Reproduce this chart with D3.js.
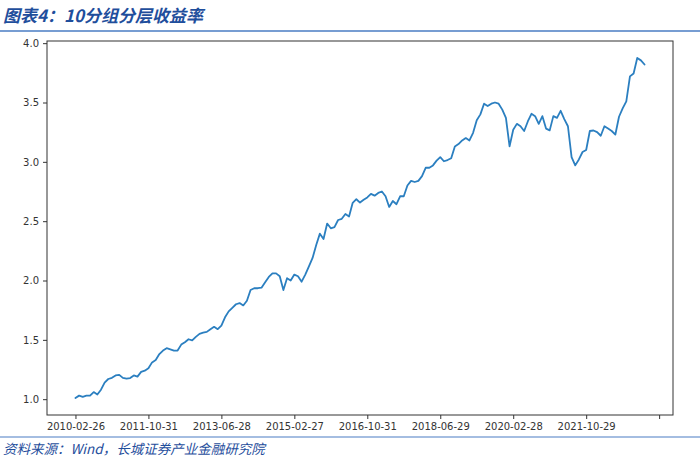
<!DOCTYPE html>
<html><head><meta charset="utf-8">
<script src="https://cdn.jsdelivr.net/npm/d3@7"></script>
<style>
body{margin:0;background:#fff;}
svg{display:block;}
</style></head>
<body>
<svg id="chart" width="700" height="459"></svg>
<script>
const titleText = "图表4：10分组分层收益率";
const sourceText = "资料来源：Wind，长城证券产业金融研究院";
const tickIndices = [0, 20, 40, 60, 80, 100, 120, 140, 160];
const tickLabels = ["2010-02-26","2011-10-31","2013-06-28","2015-02-27","2016-10-31","2018-06-29","2020-02-28","2021-10-29",""];
const yTicks = [1.0, 1.5, 2.0, 2.5, 3.0, 3.5, 4.0];
const values = [
1.01,1.03,1.02,1.03,1.03,1.06,1.04,1.08,1.14,1.17,
1.18,1.20,1.205,1.18,1.174,1.178,1.20,1.19,1.23,1.24,
1.26,1.31,1.33,1.38,1.41,1.43,1.42,1.41,1.41,1.46,
1.48,1.505,1.495,1.525,1.55,1.56,1.567,1.59,1.61,1.59,
1.62,1.69,1.74,1.77,1.80,1.81,1.79,1.83,1.92,1.935,
1.935,1.94,1.985,2.03,2.06,2.06,2.036,1.92,2.02,2.0,
2.05,2.036,1.99,2.05,2.12,2.19,2.30,2.395,2.35,2.48,
2.44,2.45,2.51,2.52,2.56,2.54,2.655,2.685,2.657,2.68,
2.70,2.73,2.715,2.738,2.75,2.71,2.62,2.67,2.643,2.71,
2.71,2.80,2.84,2.83,2.84,2.88,2.95,2.95,2.97,3.01,
3.04,3.005,3.015,3.03,3.13,3.15,3.18,3.20,3.18,3.245,
3.35,3.40,3.49,3.47,3.49,3.50,3.49,3.44,3.37,3.13,
3.27,3.32,3.30,3.26,3.34,3.405,3.385,3.32,3.385,3.28,
3.265,3.385,3.37,3.43,3.36,3.30,3.04,2.97,3.02,3.083,
3.10,3.26,3.264,3.25,3.22,3.30,3.28,3.26,3.23,3.38,
3.45,3.51,3.72,3.745,3.875,3.855,3.82
];

const svg = d3.select("#chart");
const W = 700, H = 459;
const frame = {left: 47, right: 673, top: 41, bottom: 415};

// Title
svg.append("text").attr("x", 3).attr("y", 22)
  .attr("font-family", "'Noto Sans CJK SC', sans-serif")
  .attr("font-size", 17).attr("font-weight", "bold").attr("font-style", "italic")
  .attr("fill", "#1f4e9c").text(titleText);
svg.append("line").attr("x1", 0).attr("x2", W).attr("y1", 31).attr("y2", 31)
  .attr("stroke", "#4a7cc3").attr("stroke-width", 1.5);

// Footer
svg.append("line").attr("x1", 0).attr("x2", W).attr("y1", 437).attr("y2", 437)
  .attr("stroke", "#4a7cc3").attr("stroke-width", 1.2);
svg.append("text").attr("x", 3).attr("y", 454)
  .attr("font-family", "'Noto Sans CJK SC', sans-serif")
  .attr("font-size", 13.5).attr("font-style", "italic")
  .attr("fill", "#1f4e9c").text(sourceText);

// Scales (matplotlib-like 5% margins)
const n = values.length;
const xPad = (n - 1) * 0.05;
const x = d3.scaleLinear().domain([-xPad, n - 1 + xPad]).range([frame.left, frame.right]);
const [ymin, ymax] = d3.extent(values);
const yPad = (ymax - ymin) * 0.05;
const y = d3.scaleLinear().domain([ymin - yPad, ymax + yPad]).range([frame.bottom, frame.top]);

// Frame
svg.append("rect").attr("x", frame.left).attr("y", frame.top)
  .attr("width", frame.right - frame.left).attr("height", frame.bottom - frame.top)
  .attr("fill", "none").attr("stroke", "#333").attr("stroke-width", 1);

// Axes
const xAxis = d3.axisBottom(x).tickValues(tickIndices)
  .tickFormat((d, i) => tickLabels[i]).tickSize(4).tickPadding(4);
const gx = svg.append("g").attr("transform", `translate(0,${frame.bottom})`).call(xAxis);
const yAxis = d3.axisLeft(y).tickValues(yTicks).tickFormat(d3.format(".1f")).tickSize(4).tickPadding(4);
const gy = svg.append("g").attr("transform", `translate(${frame.left},0)`).call(yAxis);
[gx, gy].forEach(g => {
  g.select(".domain").remove();
  g.selectAll(".tick line").attr("stroke", "#333");
  g.selectAll(".tick text").attr("fill", "#333")
    .attr("font-family", "'DejaVu Sans', sans-serif").attr("font-size", 10);
});

// Line
const line = d3.line().x((d, i) => x(i)).y(d => y(d));
svg.append("path").datum(values).attr("d", line)
  .attr("fill", "none").attr("stroke", "#2b7fc0").attr("stroke-width", 1.8)
  .attr("stroke-linejoin", "round").attr("stroke-linecap", "round");
</script>
</body></html>
